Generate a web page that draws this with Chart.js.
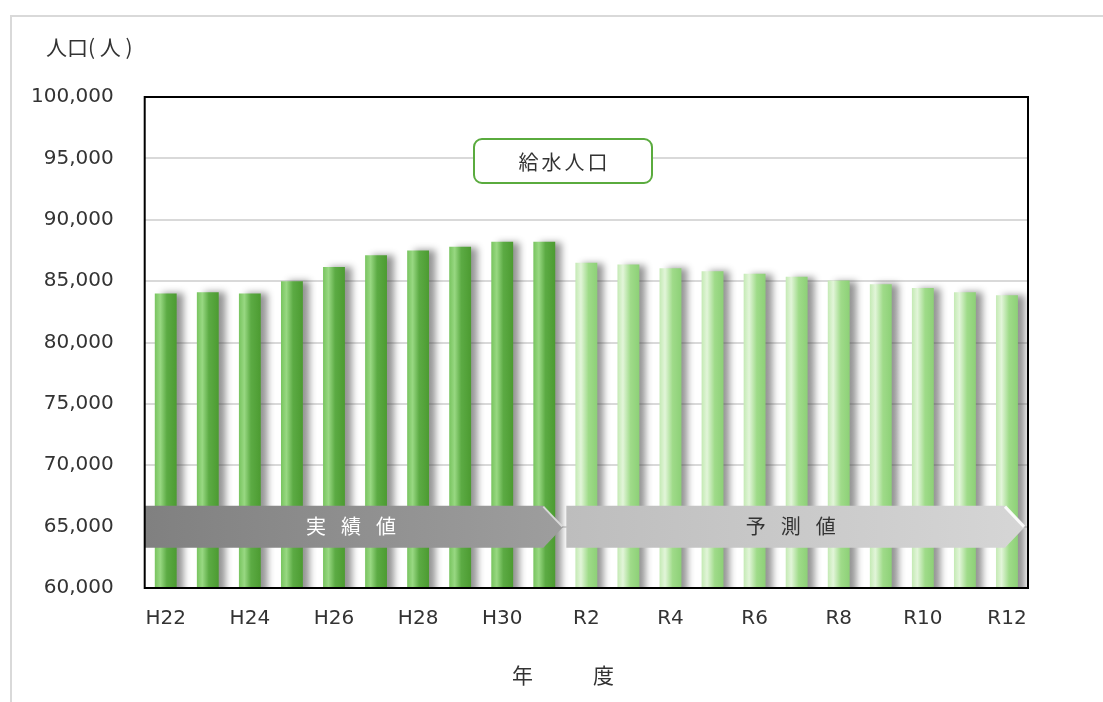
<!DOCTYPE html>
<html>
<head>
<meta charset="utf-8">
<script src="https://cdn.jsdelivr.net/npm/chart.js@4/dist/chart.umd.min.js"></script>
<style>
  html, body { margin: 0; padding: 0; background: #fff; }
  #wrap { width: 1103px; height: 702px; position: relative; }
</style>
</head>
<body>
<div id="wrap"><canvas id="grap1" width="1103" height="702"></canvas></div>
<script>
// 年度 (fiscal years)
var years = ["H22", "H23", "H24", "H25", "H26", "H27", "H28", "H29", "H30", "R1",
             "R2", "R3", "R4", "R5", "R6", "R7", "R8", "R9", "R10", "R11", "R12"];
// 給水人口 実績値 (H22 - R1)
var actual = [84000, 84100, 84000, 85000, 86150, 87100, 87500, 87800, 88200, 88200];
// 給水人口 予測値 (R2 - R12)
var forecast = [86500, 86350, 86050, 85800, 85600, 85350, 85050, 84750, 84450, 84100, 83850];
var yTicks = [60000, 65000, 70000, 75000, 80000, 85000, 90000, 95000, 100000];

var cjk = "'Noto Sans CJK JP', sans-serif";
var latin = "'DejaVu Sans', Verdana, sans-serif";

function barGradient(context) {
    var chart = context.chart;
    var xs = chart.scales.x;
    var i = context.dataIndex;
    var dark = i < actual.length;
    if (!xs || !chart.chartArea) return dark ? '#5aa843' : '#a3dc8f';
    var cx = xs.getPixelForValue(i);
    var w = (xs.width / years.length) * 0.52;
    var g = chart.ctx.createLinearGradient(cx - w / 2, 0, cx + w / 2, 0);
    if (dark) {
        g.addColorStop(0, '#78c45f');
        g.addColorStop(0.25, '#98d882');
        g.addColorStop(0.55, '#5cab44');
        g.addColorStop(1, '#4c9b31');
    } else {
        g.addColorStop(0, '#c4eab4');
        g.addColorStop(0.25, '#e2f5d9');
        g.addColorStop(0.6, '#9fdb89');
        g.addColorStop(1, '#8dd077');
    }
    return g;
}

function arrowPath(ctx, x0, x1, top, bot) {
    var mid = (top + bot) / 2;
    ctx.beginPath();
    ctx.moveTo(x0, top);
    ctx.lineTo(x1 - 20, top);
    ctx.lineTo(x1, mid);
    ctx.lineTo(x1 - 20, bot);
    ctx.lineTo(x0, bot);
    ctx.closePath();
}

function spacedText(ctx, chars, cx, cy, step) {
    var start = cx - step * (chars.length - 1) / 2;
    for (var k = 0; k < chars.length; k++) {
        ctx.fillText(chars[k], start + step * k, cy);
    }
}

var decor = {
    id: 'decor',
    beforeDraw: function (chart) {
        var ctx = chart.ctx;
        ctx.save();
        ctx.fillStyle = '#fff';
        ctx.fillRect(0, 0, chart.width, chart.height);
        ctx.strokeStyle = '#d9d9d9';
        ctx.lineWidth = 2;
        ctx.strokeRect(11, 16, chart.width + 20, chart.height + 20);
        ctx.restore();
    },
    beforeDatasetsDraw: function (chart) {
        var ctx = chart.ctx;
        ctx.save();
        ctx.shadowColor = 'rgba(60, 60, 60, 0.55)';
        ctx.shadowBlur = 7;
        ctx.shadowOffsetX = 7;
        ctx.shadowOffsetY = 0;
    },
    afterDatasetsDraw: function (chart) {
        var ctx = chart.ctx;
        ctx.restore();
        var a = chart.chartArea;
        var xs = chart.scales.x, ys = chart.scales.y;
        var split = (xs.getPixelForValue(actual.length - 1) + xs.getPixelForValue(actual.length)) / 2;
        var yc = ys.getPixelForValue(65000);
        var top = yc - 21, bot = yc + 21;

        ctx.save();
        // 実績値 arrow
        var g1 = ctx.createLinearGradient(a.left, 0, split, 0);
        g1.addColorStop(0, '#808080');
        g1.addColorStop(1, '#9e9e9e');
        arrowPath(ctx, a.left, split - 2, top, bot);
        ctx.fillStyle = g1;
        ctx.fill();
        ctx.strokeStyle = 'rgba(255,255,255,0.6)';
        ctx.lineWidth = 2;
        ctx.beginPath();
        ctx.moveTo(split - 22, top + 1);
        ctx.lineTo(split - 3, yc);
        ctx.stroke();

        // 予測値 arrow
        var g2 = ctx.createLinearGradient(split, 0, a.right, 0);
        g2.addColorStop(0, '#bdbdbd');
        g2.addColorStop(1, '#d6d6d6');
        arrowPath(ctx, split + 1, a.right - 3, top, bot);
        ctx.fillStyle = g2;
        ctx.fill();
        ctx.strokeStyle = 'rgba(255,255,255,0.9)';
        ctx.lineWidth = 3;
        ctx.beginPath();
        ctx.moveTo(a.right - 23, top + 1);
        ctx.lineTo(a.right - 4, yc);
        ctx.stroke();

        ctx.font = '20px ' + cjk;
        ctx.textAlign = 'center';
        ctx.textBaseline = 'middle';
        ctx.fillStyle = '#ffffff';
        spacedText(ctx, ['実', '績', '値'], (a.left + split) / 2 - 4, yc, 35);
        ctx.fillStyle = '#333333';
        spacedText(ctx, ['予', '測', '値'], (split + a.right) / 2 - 6, yc, 35);

        // 給水人口 label box
        var bx = 474, by = 139, bw = 178, bh = 44;
        ctx.beginPath();
        ctx.roundRect(bx, by, bw, bh, 8);
        ctx.fillStyle = '#fff';
        ctx.fill();
        ctx.strokeStyle = '#5aab3e';
        ctx.lineWidth = 2;
        ctx.stroke();
        ctx.fillStyle = '#333333';
        spacedText(ctx, ['給', '水', '人', '口'], bx + bw / 2, by + bh / 2 + 1, 23);

        // plot frame
        ctx.strokeStyle = '#000';
        ctx.lineWidth = 2;
        ctx.strokeRect(a.left, a.top, a.right - a.left, a.bottom - a.top);

        // axis titles
        ctx.fillStyle = '#333333';
        ctx.font = '21px ' + cjk;
        ctx.textAlign = 'left';
        ctx.fillText('人口( 人 )', 46, 47);
        ctx.textAlign = 'center';
        spacedText(ctx, ['年', '度'], 563, 675, 81);
        ctx.restore();
    }
};

var ctx = document.getElementById('grap1').getContext('2d');
var chart = new Chart(ctx, {
    type: 'bar',
    data: {
        labels: years,
        datasets: [
            {
                label: "給水人口",
                data: actual.concat(forecast),
                backgroundColor: barGradient,
                borderWidth: 0,
                barPercentage: 0.52,
                categoryPercentage: 1.0
            }
        ]
    },
    options: {
        responsive: false,
        animation: false,
        layout: {
            padding: { left: 0, right: 75, top: 97, bottom: 60 }
        },
        plugins: {
            legend: { display: false },
            title: { display: false },
            tooltip: { enabled: false }
        },
        scales: {
            x: {
                grid: { display: false },
                border: { display: false },
                ticks: {
                    autoSkip: false,
                    maxRotation: 0,
                    padding: 11,
                    color: '#333333',
                    font: { family: latin, size: 20 },
                    callback: function (v, i) { return i % 2 === 0 ? years[i] : ''; }
                }
            },
            y: {
                min: yTicks[0],
                max: yTicks[yTicks.length - 1],
                afterBuildTicks: function (scale) {
                    scale.ticks = yTicks.map(function (v) { return { value: v }; });
                },
                grid: { color: '#d9d9d9', lineWidth: 2, drawTicks: false },
                border: { display: false },
                ticks: {
                    padding: 31,
                    color: '#333333',
                    font: { family: latin, size: 20 },
                    callback: function (v) { return v.toLocaleString('en-US'); }
                }
            }
        }
    },
    plugins: [decor]
});
</script>
</body>
</html>
